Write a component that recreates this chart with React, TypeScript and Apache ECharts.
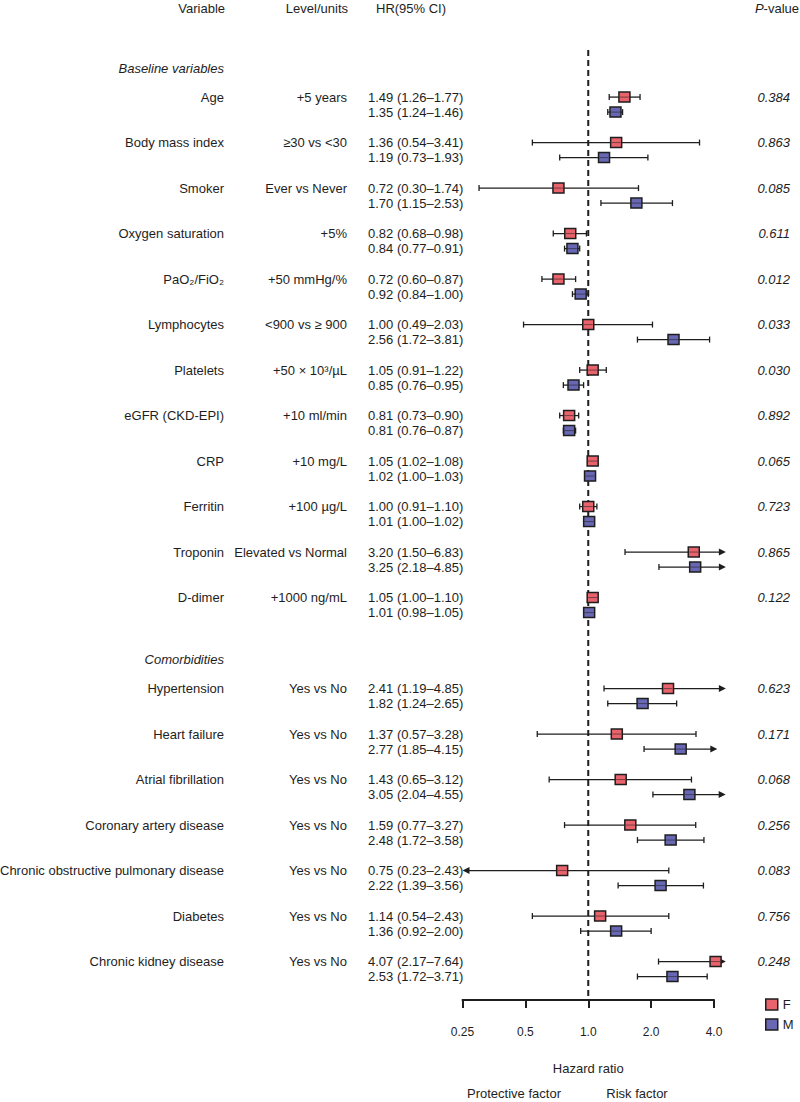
import React, { useEffect, useRef } from 'react';
import * as echarts from 'echarts';

// ---------------- data ----------------
const groupNames = ['Baseline variables', 'Comorbidities'];
const variables = [
  'Age', 'Body mass index', 'Smoker', 'Oxygen saturation', 'PaO₂/FiO₂', 'Lymphocytes',
  'Platelets', 'eGFR (CKD-EPI)', 'CRP', 'Ferritin', 'Troponin', 'D-dimer',
  'Hypertension', 'Heart failure', 'Atrial fibrillation', 'Coronary artery disease',
  'Chronic obstructive pulmonary disease', 'Diabetes', 'Chronic kidney disease',
];
const groupOf = [0, 0, 0, 0, 0, 0, 0, 0, 0, 0, 0, 0, 1, 1, 1, 1, 1, 1, 1];
const levels = [
  '+5 years', '≥30 vs <30', 'Ever vs Never', '+5%', '+50 mmHg/%', '<900 vs ≥ 900',
  '+50 × 10³/µL', '+10 ml/min', '+10 mg/L', '+100 µg/L', 'Elevated vs Normal', '+1000 ng/mL',
  'Yes vs No', 'Yes vs No', 'Yes vs No', 'Yes vs No', 'Yes vs No', 'Yes vs No', 'Yes vs No',
];
const hrF = [1.49, 1.36, 0.72, 0.82, 0.72, 1.00, 1.05, 0.81, 1.05, 1.00, 3.20, 1.05, 2.41, 1.37, 1.43, 1.59, 0.75, 1.14, 4.07];
const loF = [1.26, 0.54, 0.30, 0.68, 0.60, 0.49, 0.91, 0.73, 1.02, 0.91, 1.50, 1.00, 1.19, 0.57, 0.65, 0.77, 0.23, 0.54, 2.17];
const hiF = [1.77, 3.41, 1.74, 0.98, 0.87, 2.03, 1.22, 0.90, 1.08, 1.10, 6.83, 1.10, 4.85, 3.28, 3.12, 3.27, 2.43, 2.43, 7.64];
const hrM = [1.35, 1.19, 1.70, 0.84, 0.92, 2.56, 0.85, 0.81, 1.02, 1.01, 3.25, 1.01, 1.82, 2.77, 3.05, 2.48, 2.22, 1.36, 2.53];
const loM = [1.24, 0.73, 1.15, 0.77, 0.84, 1.72, 0.76, 0.76, 1.00, 1.00, 2.18, 0.98, 1.24, 1.85, 2.04, 1.72, 1.39, 0.92, 1.72];
const hiM = [1.46, 1.93, 2.53, 0.91, 1.00, 3.81, 0.95, 0.87, 1.03, 1.02, 4.85, 1.05, 2.65, 4.15, 4.55, 3.58, 3.56, 2.00, 3.71];
const pValues = ['0.384', '0.863', '0.085', '0.611', '0.012', '0.033', '0.030', '0.892', '0.065', '0.723', '0.865', '0.122',
  '0.623', '0.171', '0.068', '0.256', '0.083', '0.756', '0.248'];
const axisTicks = [0.25, 0.5, 1, 2, 4];
const seriesNames = ['F', 'M'];

// ---------------- style ----------------
const FONT = '"Liberation Sans", Arial, Helvetica, sans-serif';
const INK = '#1e1e1e';
const RED = '#e8636c';
const BLUE = '#6767b3';
const XMIN = 0.25;
const XMAX = 4.56;
const ARROW_FROM = 4;
const PAIR = 0.165;

const fmt = (h: number, l: number, u: number) => `${h.toFixed(2)} (${l.toFixed(2)}–${u.toFixed(2)})`;

export default function App() {
  const ref = useRef<HTMLDivElement>(null);
  useEffect(() => {
    const chart = echarts.init(ref.current!, null, { renderer: 'svg' });

    // slots
    let slot = 0;
    const varSlot: number[] = [];
    const headerSlot: number[] = [];
    variables.forEach((_, i) => {
      const start = i === 0 || groupOf[i] !== groupOf[i - 1];
      if (start && i > 0) slot += 1;
      slot += 1;
      varSlot.push(slot);
      if (start) headerSlot.push(slot - 0.8);
    });
    const YMAX = slot + 0.68;

    const txt = (text: string, x: number, y: number, align: string, extra: any = {}) => ({
      type: 'text',
      x, y,
      style: { text, fill: INK, fontSize: 13, fontFamily: FONT, align, verticalAlign: 'middle', ...extra },
    });

    const forest = (color: string) => (params: any, api: any) => {
      const hr = api.value(0), lo = api.value(1), hi = api.value(2), yv = api.value(3);
      const y = api.coord([1, yv])[1];
      const leftArrow = lo < XMIN;
      const rightArrow = hi > ARROW_FROM;
      const xl = api.coord([Math.max(lo, XMIN), yv])[0];
      const xh = api.coord([Math.min(hi, XMAX), yv])[0];
      const xc = api.coord([hr, yv])[0];
      const H = 7, cap = 3;
      const ls = { stroke: INK, lineWidth: 1.3 };
      const ch: any[] = [];
      ch.push({ type: 'line', shape: { x1: leftArrow ? xl + H - 1 : xl, y1: y, x2: rightArrow ? xh - H + 1 : xh, y2: y }, style: ls });
      if (leftArrow) ch.push({ type: 'polygon', shape: { points: [[xl, y], [xl + H, y - 3.5], [xl + H, y + 3.5]] }, style: { fill: INK } });
      else ch.push({ type: 'line', shape: { x1: xl, y1: y - cap, x2: xl, y2: y + cap }, style: ls });
      if (rightArrow) ch.push({ type: 'polygon', shape: { points: [[xh, y], [xh - H, y - 3.5], [xh - H, y + 3.5]] }, style: { fill: INK } });
      else ch.push({ type: 'line', shape: { x1: xh, y1: y - cap, x2: xh, y2: y + cap }, style: ls });
      ch.push({ type: 'rect', shape: { x: xc - 5.5, y: y - 5, width: 11, height: 10 }, style: { fill: color, stroke: INK, lineWidth: 1.5 } });
      ch.push({ type: 'line', shape: { x1: xc - 4.5, y1: y, x2: xc + 4.5, y2: y }, style: { stroke: INK, lineWidth: 1, opacity: 0.55 } });
      return { type: 'group', children: ch };
    };

    const fData = variables.map((_, i) => [hrF[i], loF[i], hiF[i], varSlot[i] - PAIR]);
    const mData = variables.map((_, i) => [hrM[i], loM[i], hiM[i], varSlot[i] + PAIR]);

    const option: any = {
      animation: false,
      grid: [
        { left: 462.5, top: 50, width: 62.875 * Math.log2(XMAX / XMIN), height: 950 },
        { left: 462.5, top: 999, width: 251.5, height: 1 },
      ],
      xAxis: [
        { type: 'log', logBase: 2, min: XMIN, max: XMAX, gridIndex: 0, show: false },
        {
          type: 'log', logBase: 2, min: axisTicks[0], max: axisTicks[axisTicks.length - 1], gridIndex: 1,
          axisLine: { show: true, lineStyle: { color: INK, width: 2 } },
          axisTick: { show: true, length: 8, lineStyle: { color: INK, width: 2 } },
          splitLine: { show: false },
          axisLabel: {
            margin: 26, fontSize: 12, color: INK, fontFamily: FONT,
            formatter: (v: number) => {
              const t = axisTicks.find((a) => Math.abs(a - v) < 1e-6);
              if (t === undefined) return '';
              return t < 0.5 ? String(t) : t.toFixed(1);
            },
          },
          name: 'Hazard ratio', nameLocation: 'middle', nameGap: 62,
          nameTextStyle: { fontSize: 13, color: INK, fontFamily: FONT },
        },
      ],
      yAxis: [
        { type: 'value', min: -0.2, max: YMAX, inverse: true, gridIndex: 0, show: false },
        { type: 'value', min: 0, max: 1, gridIndex: 1, show: false },
      ],
      legend: {
        orient: 'vertical', left: 760, top: 993, itemWidth: 12, itemHeight: 11, itemGap: 7,
        selectedMode: false,
        textStyle: { fontSize: 13, color: INK, fontFamily: FONT },
        data: [
          { name: seriesNames[0], icon: 'rect', itemStyle: { color: RED, borderColor: INK, borderWidth: 1.5 } },
          { name: seriesNames[1], icon: 'rect', itemStyle: { color: BLUE, borderColor: INK, borderWidth: 1.5 } },
        ],
      },
      graphic: [
        txt('Variable', 225, 8, 'right'),
        txt('Level/units', 348, 8, 'right'),
        txt('HR(95% CI)', 376, 8, 'left'),
        { type: 'text', x: 799, y: 8, style: { text: '{i|P}-value', fill: INK, fontSize: 13, fontFamily: FONT, align: 'right', verticalAlign: 'middle', rich: { i: { fontStyle: 'italic', fontSize: 13, fontFamily: FONT, fill: INK } } } },
        txt('Protective factor', 514, 1093, 'center'),
        txt('Risk factor', 637, 1093, 'center'),
      ],
      series: [
        {
          name: 'ref', type: 'line', xAxisIndex: 0, yAxisIndex: 0, symbol: 'none', silent: true, z: 1,
          data: [[1, -0.2], [1, YMAX]],
          lineStyle: { color: INK, width: 2, type: [6, 4] },
        },
        {
          name: seriesNames[0], type: 'custom', xAxisIndex: 0, yAxisIndex: 0, clip: false, z: 3,
          itemStyle: { color: RED, borderColor: INK, borderWidth: 1.5 },
          renderItem: forest(RED), data: fData,
        },
        {
          name: seriesNames[1], type: 'custom', xAxisIndex: 0, yAxisIndex: 0, clip: false, z: 3,
          itemStyle: { color: BLUE, borderColor: INK, borderWidth: 1.5 },
          renderItem: forest(BLUE), data: mData,
        },
        {
          name: 'labels', type: 'custom', xAxisIndex: 0, yAxisIndex: 0, clip: false, silent: true,
          data: varSlot.map((s) => [1, s]),
          renderItem: (params: any, api: any) => {
            const i = params.dataIndex;
            const s = api.value(1);
            const yF = api.coord([1, s - PAIR])[1];
            const yM = api.coord([1, s + PAIR])[1];
            return {
              type: 'group',
              children: [
                txt(variables[i], 224, yF, 'right'),
                txt(levels[i], 347, yF, 'right'),
                txt(fmt(hrF[i], loF[i], hiF[i]), 368, yF, 'left'),
                txt(fmt(hrM[i], loM[i], hiM[i]), 368, yM, 'left'),
                txt(pValues[i], 790, yF, 'right', { fontStyle: 'italic' }),
              ],
            };
          },
        },
        {
          name: 'headers', type: 'custom', xAxisIndex: 0, yAxisIndex: 0, clip: false, silent: true,
          data: headerSlot.map((s) => [1, s]),
          renderItem: (params: any, api: any) => {
            const y = api.coord([1, api.value(1)])[1];
            return txt(groupNames[params.dataIndex], 224, y, 'right', { fontStyle: 'italic' });
          },
        },
      ],
    };
    chart.setOption(option);
    return () => chart.dispose();
  }, []);
  return <div ref={ref} style={{ position: 'absolute', left: 0, top: 0, width: 800, height: 1102 }} />;
}
